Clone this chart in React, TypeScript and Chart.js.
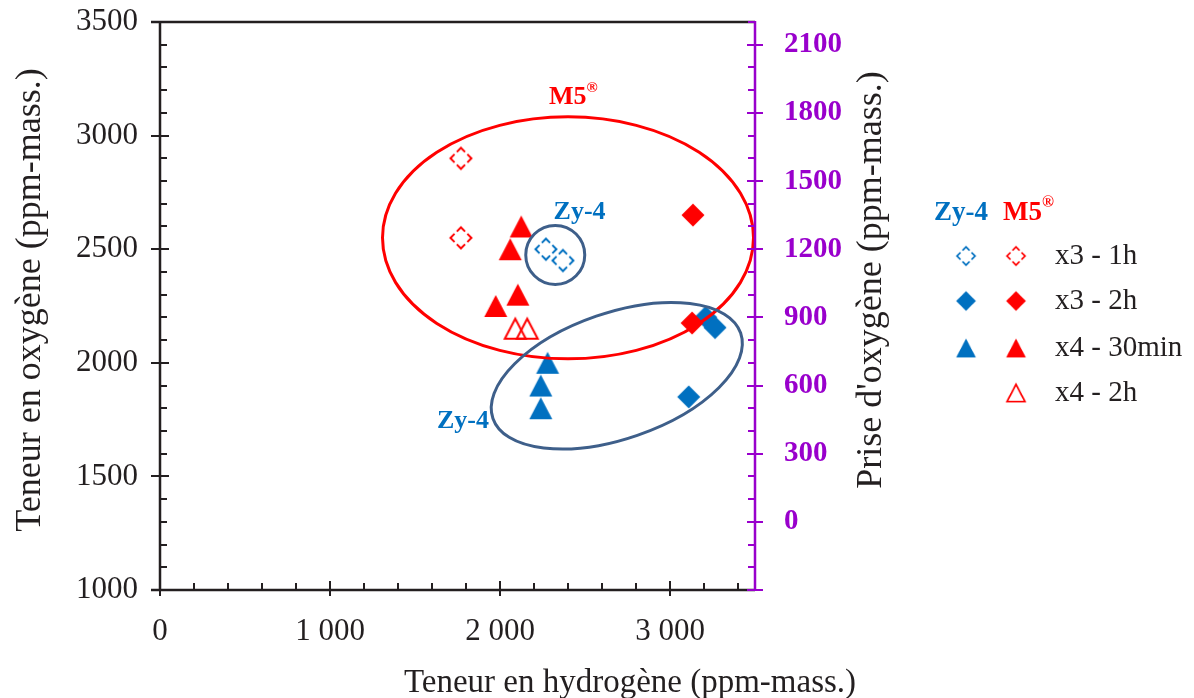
import React, { useEffect, useRef } from "react";
import { Chart, registerables } from "chart.js";

Chart.register(...registerables);

// ---------- data ----------
const xTickValues = [0, 1000, 2000, 3000];
const yLeftTickValues = [1000, 1500, 2000, 2500, 3000, 3500];
const yRightTickValues = [0, 300, 600, 900, 1200, 1500, 1800, 2100];

const zy4_x3_1h = [
  { x: 2270, y: 2500 },
  { x: 2370, y: 2450 },
];
const zy4_x3_2h = [
  { x: 3210, y: 2200 },
  { x: 3265, y: 2155 },
  { x: 3110, y: 1850 },
];
const zy4_x4_30min = [
  { x: 2280, y: 2000 },
  { x: 2240, y: 1900 },
  { x: 2240, y: 1800 },
];
const m5_x3_1h = [
  { x: 1770, y: 2900 },
  { x: 1770, y: 2550 },
];
const m5_x3_2h = [
  { x: 3135, y: 2650 },
  { x: 3130, y: 2175 },
];
const m5_x4_30min = [
  { x: 2125, y: 2600 },
  { x: 2060, y: 2500 },
  { x: 2105, y: 2300 },
  { x: 1975, y: 2250 },
];
const m5_x4_2h = [
  { x: 2090, y: 2150 },
  { x: 2160, y: 2150 },
];

const legendLabels = ["x3 - 1h", "x3 - 2h", "x4 - 30min", "x4 - 2h"];
const alloyNames = ["Zy-4", "M5"];

const xTitle = "Teneur en hydrogène (ppm-mass.)";
const yTitle = "Teneur en oxygène (ppm-mass.)";
const y2Title = "Prise d'oxygène (ppm-mass.)";

// group ellipses (centre in data units)
const groupEllipses = [
  { x: 2400, y: 2550, rx: 185.5, ry: 121, rot: 0, color: "#FF0000" },
  { x: 2325, y: 2475, rx: 29.5, ry: 29.5, rot: 0, color: "#3E5F8A" },
  { x: 2687, y: 1943, rx: 131, ry: 63, rot: -19, color: "#3E5F8A" },
];
// group annotations (data coordinates)
const groupLabels = [
  { x: 2432, y: 3170, text: "M5", sup: true, color: "#FF0000" },
  { x: 2468, y: 2664, text: "Zy-4", sup: false, color: "#0070C0" },
  { x: 1782, y: 1744, text: "Zy-4", sup: false, color: "#0070C0" },
];

// ---------- style ----------
const FONT = "'Liberation Serif', 'Times New Roman', serif";
const RED = "#FF0000";
const BLUE = "#0070C0";
const PURPLE = "#9900CC";
const INK = "#231F20";

function makeMarker(kind: string, color: string): HTMLCanvasElement {
  const s = 28;
  const c = document.createElement("canvas");
  c.width = s;
  c.height = s;
  const g = c.getContext("2d")!;
  const m = s / 2;
  g.fillStyle = color;
  g.strokeStyle = color;
  if (kind === "diamond" || kind === "openDiamond") {
    const r = kind === "diamond" ? 11.5 : 10.5;
    g.beginPath();
    g.moveTo(m, m - r);
    g.lineTo(m + r, m);
    g.lineTo(m, m + r);
    g.lineTo(m - r, m);
    g.closePath();
    if (kind === "diamond") g.fill();
    else {
      const L = r * Math.SQRT2;
      const gap = 3.2;
      g.lineWidth = 2;
      g.setLineDash([L - gap, gap]);
      g.lineDashOffset = (L - gap) / 2;
      g.stroke();
    }
  } else {
    const open = kind === "openTriangle";
    const w = open ? 21 : 23;
    const h = open ? 20 : 22;
    g.beginPath();
    g.moveTo(m, m - h / 2);
    g.lineTo(m + w / 2, m + h / 2);
    g.lineTo(m - w / 2, m + h / 2);
    g.closePath();
    if (open) {
      g.lineWidth = 2;
      g.lineJoin = "miter";
      g.stroke();
    } else g.fill();
  }
  return c;
}

export default function App() {
  const ref = useRef<HTMLCanvasElement | null>(null);

  useEffect(() => {
    document.body.style.margin = "0";
    const canvas = ref.current!;
    const mk = {
      zOpenD: makeMarker("openDiamond", BLUE),
      zD: makeMarker("diamond", BLUE),
      zT: makeMarker("triangle", BLUE),
      mOpenD: makeMarker("openDiamond", RED),
      mD: makeMarker("diamond", RED),
      mT: makeMarker("triangle", RED),
      mOpenT: makeMarker("openTriangle", RED),
    };

    const ds = (data: any[], img: HTMLCanvasElement) => ({
      data,
      pointStyle: img,
      pointRadius: 12,
      showLine: false,
      xAxisID: "x",
      yAxisID: "y",
    });

    const decor = {
      id: "decor",
      afterDatasetsDraw(chart: any) {
        const { ctx, scales } = chart;
        const xs = scales.x;
        const ys = scales.y;
        ctx.save();
        for (const e of groupEllipses) {
          ctx.beginPath();
          ctx.ellipse(
            xs.getPixelForValue(e.x),
            ys.getPixelForValue(e.y),
            e.rx,
            e.ry,
            (e.rot * Math.PI) / 180,
            0,
            Math.PI * 2
          );
          ctx.strokeStyle = e.color;
          ctx.lineWidth = 3;
          ctx.stroke();
        }
        // group labels
        ctx.textBaseline = "middle";
        for (const l of groupLabels) {
          const px = xs.getPixelForValue(l.x);
          const py = ys.getPixelForValue(l.y);
          ctx.fillStyle = l.color;
          ctx.font = `bold 26px ${FONT}`;
          const w = ctx.measureText(l.text).width;
          let supW = 0;
          if (l.sup) {
            ctx.font = `bold 15px ${FONT}`;
            supW = ctx.measureText("®").width;
          }
          const x0 = px - (w + supW) / 2;
          ctx.font = `bold 26px ${FONT}`;
          ctx.textAlign = "left";
          ctx.fillText(l.text, x0, py);
          if (l.sup) {
            ctx.font = `bold 15px ${FONT}`;
            ctx.fillText("®", x0 + w, py - 9);
          }
        }
        ctx.restore();
      },
      afterDraw(chart: any) {
        const { ctx, chartArea: a, scales } = chart;
        const xs = scales.x;
        const ys = scales.y;
        const y2 = scales.y2;
        ctx.save();
        ctx.lineCap = "butt";
        // ticks left
        ctx.strokeStyle = INK;
        ctx.lineWidth = 2;
        for (let v = ys.min; v <= ys.max; v += 100) {
          const p = Math.round(ys.getPixelForValue(v));
          ctx.beginPath();
          if (v % 500 === 0) {
            ctx.moveTo(a.left - 9, p);
            ctx.lineTo(a.left + 9, p);
          } else {
            ctx.moveTo(a.left, p);
            ctx.lineTo(a.left + 7, p);
          }
          ctx.stroke();
        }
        // ticks bottom
        for (let v = xs.min; v < xs.max; v += 200) {
          const p = Math.round(xs.getPixelForValue(v));
          ctx.beginPath();
          if (v % 1000 === 0) {
            ctx.moveTo(p, a.bottom - 9);
            ctx.lineTo(p, a.bottom + 6);
          } else {
            ctx.moveTo(p, a.bottom - 7);
            ctx.lineTo(p, a.bottom);
          }
          ctx.stroke();
        }
        // border lines
        ctx.lineWidth = 2.5;
        ctx.beginPath();
        ctx.moveTo(a.left - 9, a.top);
        ctx.lineTo(a.right, a.top);
        ctx.moveTo(a.left, a.top);
        ctx.lineTo(a.left, a.bottom);
        ctx.moveTo(a.left - 9, a.bottom);
        ctx.lineTo(a.right, a.bottom);
        ctx.stroke();
        // right axis
        ctx.strokeStyle = PURPLE;
        ctx.lineWidth = 2;
        for (let v = y2.min; v <= y2.max; v += 100) {
          const p = Math.round(y2.getPixelForValue(v));
          ctx.beginPath();
          if (v % 300 === 0) {
            ctx.moveTo(a.right - 8, p);
            ctx.lineTo(a.right + 8, p);
          } else {
            ctx.moveTo(a.right - 7, p);
            ctx.lineTo(a.right, p);
          }
          ctx.stroke();
        }
        ctx.lineWidth = 2.5;
        ctx.beginPath();
        ctx.moveTo(a.right, a.top - 1);
        ctx.lineTo(a.right, a.bottom + 1);
        ctx.stroke();

        // titles
        ctx.fillStyle = INK;
        ctx.textAlign = "center";
        ctx.textBaseline = "middle";
        ctx.font = `33px ${FONT}`;
        ctx.fillText(xTitle, 630, 683);
        ctx.save();
        ctx.translate(31, 300);
        ctx.rotate(-Math.PI / 2);
        ctx.font = `36px ${FONT}`;
        ctx.fillText(yTitle, 0, 0);
        ctx.restore();
        ctx.save();
        ctx.translate(872, 280);
        ctx.rotate(-Math.PI / 2);
        ctx.font = `36px ${FONT}`;
        ctx.fillText(y2Title, 0, 0);
        ctx.restore();

        // legend
        ctx.textBaseline = "middle";
        ctx.font = `bold 27px ${FONT}`;
        ctx.fillStyle = BLUE;
        ctx.textAlign = "left";
        ctx.fillText(alloyNames[0], 934, 213);
        ctx.fillStyle = RED;
        ctx.fillText(alloyNames[1], 1003, 213);
        const mw = ctx.measureText(alloyNames[1]).width;
        ctx.font = `bold 16px ${FONT}`;
        ctx.fillText("®", 1003 + mw, 203);
        const rows = [256, 301, 348, 393];
        const zMarks = [mk.zOpenD, mk.zD, mk.zT, null];
        const mMarks = [mk.mOpenD, mk.mD, mk.mT, mk.mOpenT];
        const sz = 24;
        rows.forEach((ry, i) => {
          const zm = zMarks[i];
          if (zm) ctx.drawImage(zm, 966 - sz / 2, ry - sz / 2, sz, sz);
          ctx.drawImage(mMarks[i], 1016 - sz / 2, ry - sz / 2, sz, sz);
          ctx.fillStyle = INK;
          ctx.font = `29px ${FONT}`;
          ctx.fillText(legendLabels[i], 1055, ry);
        });
        ctx.restore();
      },
    };

    const zeroPadY = (s: any, w: number) => {
      s.width = w;
      s.paddingTop = 0;
      s.paddingBottom = 0;
    };

    const chart = new Chart(canvas, {
      type: "scatter",
      data: {
        datasets: [
          ds(m5_x3_1h, mk.mOpenD),
          ds(m5_x3_2h, mk.mD),
          ds(m5_x4_30min, mk.mT),
          ds(m5_x4_2h, mk.mOpenT),
          ds(zy4_x3_1h, mk.zOpenD),
          ds(zy4_x3_2h, mk.zD),
          ds(zy4_x4_30min, mk.zT),
        ],
      },
      options: {
        responsive: false,
        animation: false,
        layout: { padding: { top: 22, left: 0, right: 0, bottom: 0 } },
        plugins: { legend: { display: false }, tooltip: { enabled: false } },
        scales: {
          x: {
            type: "linear",
            position: "bottom",
            min: 0,
            max: 3500,
            grid: { display: false, drawTicks: false },
            border: { display: false },
            afterBuildTicks: (s: any) => {
              s.ticks = xTickValues.map((v) => ({ value: v }));
            },
            afterFit: (s: any) => {
              s.height = 108;
              s.paddingLeft = 0;
              s.paddingRight = 0;
            },
            ticks: {
              padding: 23,
              maxRotation: 0,
              color: INK,
              font: { family: FONT, size: 31 },
              callback: (v: any) => {
                const n = Number(v);
                if (n < 1000) return String(n);
                return `${Math.floor(n / 1000)} ${String(n % 1000).padStart(3, "0")}`;
              },
            },
          },
          y: {
            type: "linear",
            position: "left",
            min: 1000,
            max: 3500,
            grid: { display: false, drawTicks: false },
            border: { display: false },
            afterBuildTicks: (s: any) => {
              s.ticks = yLeftTickValues.map((v) => ({ value: v }));
            },
            afterFit: (s: any) => zeroPadY(s, 160),
            ticks: {
              padding: 22,
              color: INK,
              font: { family: FONT, size: 31 },
              callback: (v: any) => String(v),
            },
          },
          y2: {
            type: "linear",
            position: "right",
            min: -300,
            max: 2200,
            grid: { display: false, drawTicks: false },
            border: { display: false },
            afterBuildTicks: (s: any) => {
              s.ticks = yRightTickValues.map((v) => ({ value: v }));
            },
            afterFit: (s: any) => zeroPadY(s, 1194 - 755),
            ticks: {
              padding: 29,
              color: PURPLE,
              font: { family: FONT, size: 29, weight: "bold" },
              callback: (v: any) => String(v),
            },
          },
        },
      },
      plugins: [decor],
    } as any);
    return () => chart.destroy();
  }, []);

  return (
    <div style={{ width: 1194, height: 698 }}>
      <canvas ref={ref} width={1194} height={698} style={{ display: "block" }} />
    </div>
  );
}
